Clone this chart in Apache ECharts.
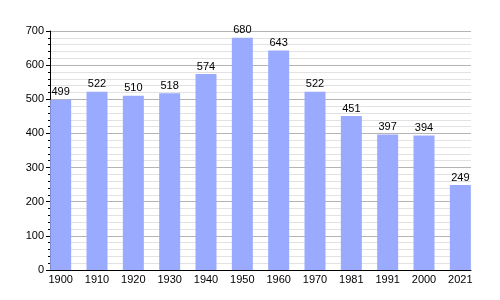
<!DOCTYPE html>
<html>
<head>
<meta charset="utf-8">
<script src="https://cdn.jsdelivr.net/npm/echarts@6/dist/echarts.min.js"></script>
<style>
  html, body { margin: 0; padding: 0; background: #fff; }
  #main { width: 500px; height: 300px; }
</style>
</head>
<body>
<div id="main"></div>
<script>
var years = ['1900', '1910', '1920', '1930', '1940', '1950', '1960', '1970', '1981', '1991', '2000', '2021'];
var population = [499, 522, 510, 518, 574, 680, 643, 522, 451, 397, 394, 249];
var yTicks = [0, 100, 200, 300, 400, 500, 600, 700];

var chartDom = document.getElementById('main');
var myChart = echarts.init(chartDom);
var font = "'Liberation Sans', Arial, sans-serif";
var yMax = yTicks[yTicks.length - 1];

// grid 0 carries the frame and gridlines, grid 1 carries the bars
// (bars start flush with the y axis and end at the right edge)
var option = {
  animation: false,
  grid: [
    { left: 50, right: 29, top: 31, bottom: 30 },
    { left: 42.5, right: 21.5, top: 31, bottom: 30 }
  ],
  xAxis: [
    {
      gridIndex: 0,
      type: 'category',
      data: years,
      axisLine: { show: true, lineStyle: { color: '#000', width: 1 } },
      axisTick: { show: false },
      axisLabel: { show: false },
      splitLine: { show: false }
    },
    {
      gridIndex: 1,
      type: 'category',
      data: years,
      axisLine: { show: false },
      axisTick: { show: false },
      axisLabel: { color: '#000', fontSize: 11, fontFamily: font, margin: 4 }
    }
  ],
  yAxis: [
    {
      gridIndex: 0,
      type: 'value',
      min: 0,
      max: yMax,
      interval: 100,
      axisLine: { show: true, lineStyle: { color: '#000', width: 1 } },
      axisTick: { show: true, length: 4, lineStyle: { color: '#000' } },
      minorTick: { show: true, splitNumber: 5, length: 2, lineStyle: { color: '#000' } },
      axisLabel: { color: '#000', fontSize: 11, fontFamily: font, margin: 6 },
      splitLine: { show: true, lineStyle: { color: '#b4b4b4', width: 1 } },
      minorSplitLine: { show: true, lineStyle: { color: '#e2e2e2', width: 1 } }
    },
    {
      gridIndex: 1,
      type: 'value',
      min: 0,
      max: yMax,
      show: false,
      splitLine: { show: false }
    }
  ],
  series: [
    {
      type: 'bar',
      xAxisIndex: 1,
      yAxisIndex: 1,
      data: population,
      barWidth: 21,
      itemStyle: { color: '#99aaff' },
      label: {
        show: true,
        position: 'top',
        distance: 2,
        color: '#000',
        fontSize: 11,
        fontFamily: font
      }
    }
  ]
};
myChart.setOption(option);
</script>
</body>
</html>
